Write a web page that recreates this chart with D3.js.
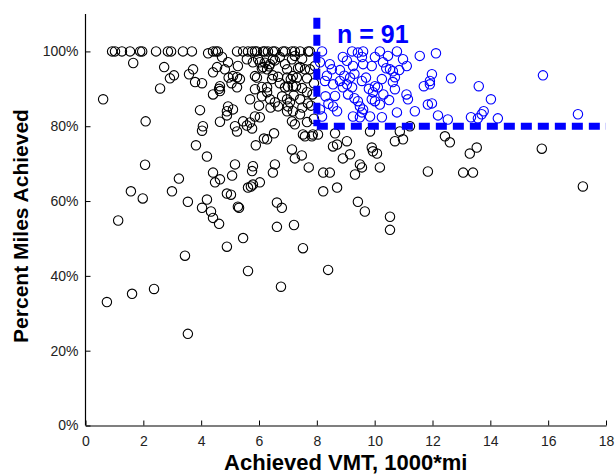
<!DOCTYPE html>
<html><head><meta charset="utf-8">
<script src="https://cdn.jsdelivr.net/npm/d3@7"></script>
<style>
html,body{margin:0;padding:0;background:#fff;}
svg{display:block;}
text{font-family:"Liberation Sans",Arial,sans-serif;}
</style></head>
<body>
<svg id="chart" width="616" height="474"></svg>
<script>
// ---- data (x: achieved VMT in 1000 mi, y: percent miles achieved) ----
const blackX = [
 0.92,1.02,1.26,1.54,1.89,1.96,2.44,2.85,2.96,3.37,3.68,4.41,4.51,4.58,5.24,5.45,5.62,5.76,5.86,5.93,6.14,6.2,6.31,6.48,6.55,6.83,6.9,7.14,7.24,7.42,7.7,7.76,
 1.65,2.58,2.72,2.92,3.06,3.58,3.72,3.79,4.03,4.41,4.41,4.24,4.65,4.65,4.62,4.72,4.55,4.93,4.82,5.1,5.24,5.34,5.24,5.27,5.58,5.79,5.86,5.69,5.86,6.03,6.14,6.28,6.38,6.48,6.72,6.9,6.97,7.24,7.42,7.59,7.76,7.93,7.17,6.28,6.28,6.45,6.48,6.72,6.9,7.1,7.17,7.28,6.97,7.07,7.66,7.69,7.42,6.38,6.55,6.66,0.61,
 5.97,6.55,7.14,7.49,6.1,7.35,5.93,6.66,6.97,7.31,7.66,6.1,7.0,7.49,6.1,6.8,7.2,6.0,6.4,7.0,7.5,7.8,7.9,7.85,7.9,4.95,5.05,6.2,6.35,
 2.08,3.96,4.06,4.03,3.82,4.93,4.89,5.1,4.89,4.65,5.17,5.45,5.69,5.58,5.76,5.86,6.03,5.89,6.17,6.28,6.52,7.59,7.86,7.66,7.42,7.17,6.97,5.24,7.14,7.24,7.83,8.04,8.63,8.7,8.56,9.04,9.84,10.7,10.98,10.87,11.22,12.43,12.6,13.53,15.78,7.52,
 1.57,1.98,2.06,4.2,3.23,2.99,3.54,4.2,4.03,4.41,4.48,4.65,5.07,5.17,4.89,5.03,5.79,5.76,5.62,5.72,5.79,6.03,6.48,6.55,7.14,7.24,7.48,7.72,8.22,8.45,8.7,8.22,8.9,9.15,9.32,9.49,9.56,9.9,10.08,10.18,9.94,11.84,13.06,13.4,13.29,17.2,9.42,9.66,
 1.13,4.34,4.41,4.62,5.31,5.45,4.89,5.62,6.62,6.79,6.62,7.21,7.52,6.76,8.39,10.53,10.53,0.74,1.61,2.37,3.44,3.54,5.27
];
const blackY = [
 100,100,100,100,100,100,100,100,100,100,100,100,100,100,100,100,100,100,100,100,100,100,100,100,100,100,100,100,100,100,100,100,
 96.9,90.1,95.8,92.8,93.6,93.9,95.2,91.8,91.5,88.5,94.4,99.5,90.7,89.4,90.0,98.5,95.8,97.1,95.2,93.4,93.1,92.6,90.4,96.1,97.9,97.1,93.4,87.2,89.9,97.1,95.8,95.2,96.6,97.9,98.5,96.6,95.2,98.8,95.8,95.2,95.2,96.1,93.4,89.1,90.4,92.6,93.6,91.5,90.4,92.6,90.7,90.7,87.2,86.4,89.1,86.1,87.2,87.2,86.4,85.3,87.2,
 97.9,97.6,97.9,98.0,95.5,95.5,93.0,93.2,93.0,93.0,92.8,90.5,90.6,90.2,88.0,88.0,88.2,85.5,85.0,85.3,85.0,85.5,82.0,88.5,91.5,93.0,91.5,97.0,96.0,
 81.3,84.3,80.0,78.8,74.9,85.3,84.0,84.5,82.9,81.2,80.0,81.3,81.0,80.2,79.4,82.6,82.4,74.9,76.7,76.5,78.1,77.3,77.8,81.1,83.2,84.0,84.0,78.6,81.3,80.5,77.3,77.8,78.1,75.1,74.6,76.0,78.6,76.0,76.5,78.6,80.0,77.3,75.7,74.3,74.0,77.8,
 62.6,60.7,69.7,71.9,66.0,62.6,59.8,60.4,58.2,67.6,65.0,65.8,66.8,69.8,62.0,61.7,69.3,68.0,63.6,63.9,64.4,65.0,67.6,69.8,73.8,71.4,72.2,69.0,67.6,67.6,63.6,62.6,71.4,72.5,67.1,69.8,69.0,74.3,72.7,69.0,73.3,67.9,67.6,67.6,72.7,63.9,59.8,57.2,
 54.8,57.2,55.5,53.9,58.2,50.1,47.8,41.3,59.6,58.2,53.1,53.6,47.4,37.1,41.6,55.8,52.3,33.0,35.2,36.5,45.4,24.5,58.5
];
const blueX = [
 8.18,8.11,8.52,8.28,8.56,8.8,8.9,9.04,9.22,9.25,9.42,9.6,9.56,9.6,9.9,10.01,10.18,10.29,10.46,10.77,10.98,11.11,11.56,12.12,10.53,10.63,10.25,9.56,9.04,9.22,8.9,8.63,9.08,9.42,9.9,10.01,10.11,9.94,10.7,10.63,10.7,11.15,11.7,11.91,11.98,11.91,12.64,13.6,14.02,15.82,17.03,8.56,8.7,8.11,8.18,9.25,9.6,9.84,9.49,10.25,10.18,10.77,11.39,11.84,11.98,12.19,12.53,13.33,13.7,13.77,13.57,14.26,9.49,9.56,10.01,
 8.35,8.45,9.3,9.7,10.4,8.3,8.8,9.8,10.85,8.95,9.15,10.3,10.5,8.4,9.3,11.1
];
const blueY = [
 100,97.1,95.2,92.1,91.2,92.1,98.5,97.5,100,96.1,99.7,100,98.5,96.6,96.1,98.5,100,97.1,98.8,100,97.9,96.1,98.8,99.5,95.2,94.7,92.6,92.1,91.2,90.4,90.4,88.1,88.5,86.7,87.2,90.7,90.4,89.1,93.1,91.8,89.9,87.2,90.7,92.1,93.9,91.2,92.8,90.7,87.2,93.6,83.2,85.3,84.0,84.5,82.6,82.6,84.5,82.6,82.4,82.4,85.8,83.7,84.0,85.8,86.1,82.9,81.8,82.4,83.2,84.0,82.1,82.1,85.3,83.7,86.7,
 93.5,96.6,94.0,93.0,95.5,88.0,95.0,90.0,95.0,93.5,93.0,88.5,87.0,86.0,87.5,88.5
];
const xTicks = [0,2,4,6,8,10,12,14,16,18];
const yTicks = [0,20,40,60,80,100];
const thresholdX = 8, thresholdY = 80;
const label = "n = 91";
const xTitle = "Achieved VMT, 1000*mi";
const yTitle = "Percent Miles Achieved";

// ---- chart ----
const svg = d3.select("#chart");
const x = d3.scaleLinear().domain([0,18]).range([85.5,606]);
const y = d3.scaleLinear().domain([0,110]).range([425.5,14]);

const xAxis = d3.axisBottom(x).tickValues(xTicks).tickSizeInner(-5).tickSizeOuter(0).tickPadding(10);
const yAxis = d3.axisLeft(y).tickValues(yTicks).tickFormat(d => d + "%").tickSizeInner(-5).tickSizeOuter(0).tickPadding(7);

const gx = svg.append("g").attr("transform","translate(0,425.5)").call(xAxis);
const gy = svg.append("g").attr("transform","translate(85.5,0)").call(yAxis);
[gx,gy].forEach(g=>{
  g.select(".domain").attr("stroke","#000").attr("stroke-width",1.2);
  g.selectAll(".tick line").attr("stroke","#000").attr("stroke-width",1);
  g.selectAll(".tick text").attr("fill","#222").style("font-size","14px").style("font-family","'Liberation Sans',Arial,sans-serif");
});
gy.select(".domain").attr("d", `M0,${y(110)}V${y(0)}`);
gx.selectAll(".tick text").attr("dy","0.75em");

const blackData = blackX.map((v,i)=>[v,blackY[i]]);
const blueData = blueX.map((v,i)=>[v,blueY[i]]);

svg.append("g").selectAll("circle").data(blackData).join("circle")
  .attr("cx",d=>x(d[0])).attr("cy",d=>y(d[1])).attr("r",4.7)
  .attr("fill","none").attr("stroke","#000").attr("stroke-width",1.1);
svg.append("g").selectAll("circle").data(blueData).join("circle")
  .attr("cx",d=>x(d[0])).attr("cy",d=>y(d[1])).attr("r",4.7)
  .attr("fill","none").attr("stroke","#0000ff").attr("stroke-width",1.1);

const lines = svg.append("g").attr("stroke","#0000ff").attr("stroke-width",7).attr("fill","none").attr("stroke-dasharray","11,6");
lines.append("path").attr("d", d3.line()([[x(thresholdX),y(109)],[x(thresholdX),y(thresholdY)]]));
lines.append("path").attr("d", d3.line()([[x(thresholdX),y(thresholdY)],[x(18),y(thresholdY)]]));

svg.append("text").attr("x",337).attr("y",43).attr("fill","#0000ff")
  .style("font-size","25px").style("font-weight","bold").text(label);

svg.append("text").attr("x",(x(0)+x(18))/2).attr("y",470).attr("text-anchor","middle")
  .style("font-size","22px").style("font-weight","bold").attr("fill","#000").text(xTitle);
svg.append("text").attr("transform",`translate(28,226) rotate(-90)`).attr("text-anchor","middle")
  .style("font-size","21px").style("font-weight","bold").attr("fill","#000").text(yTitle);
</script>
</body></html>
